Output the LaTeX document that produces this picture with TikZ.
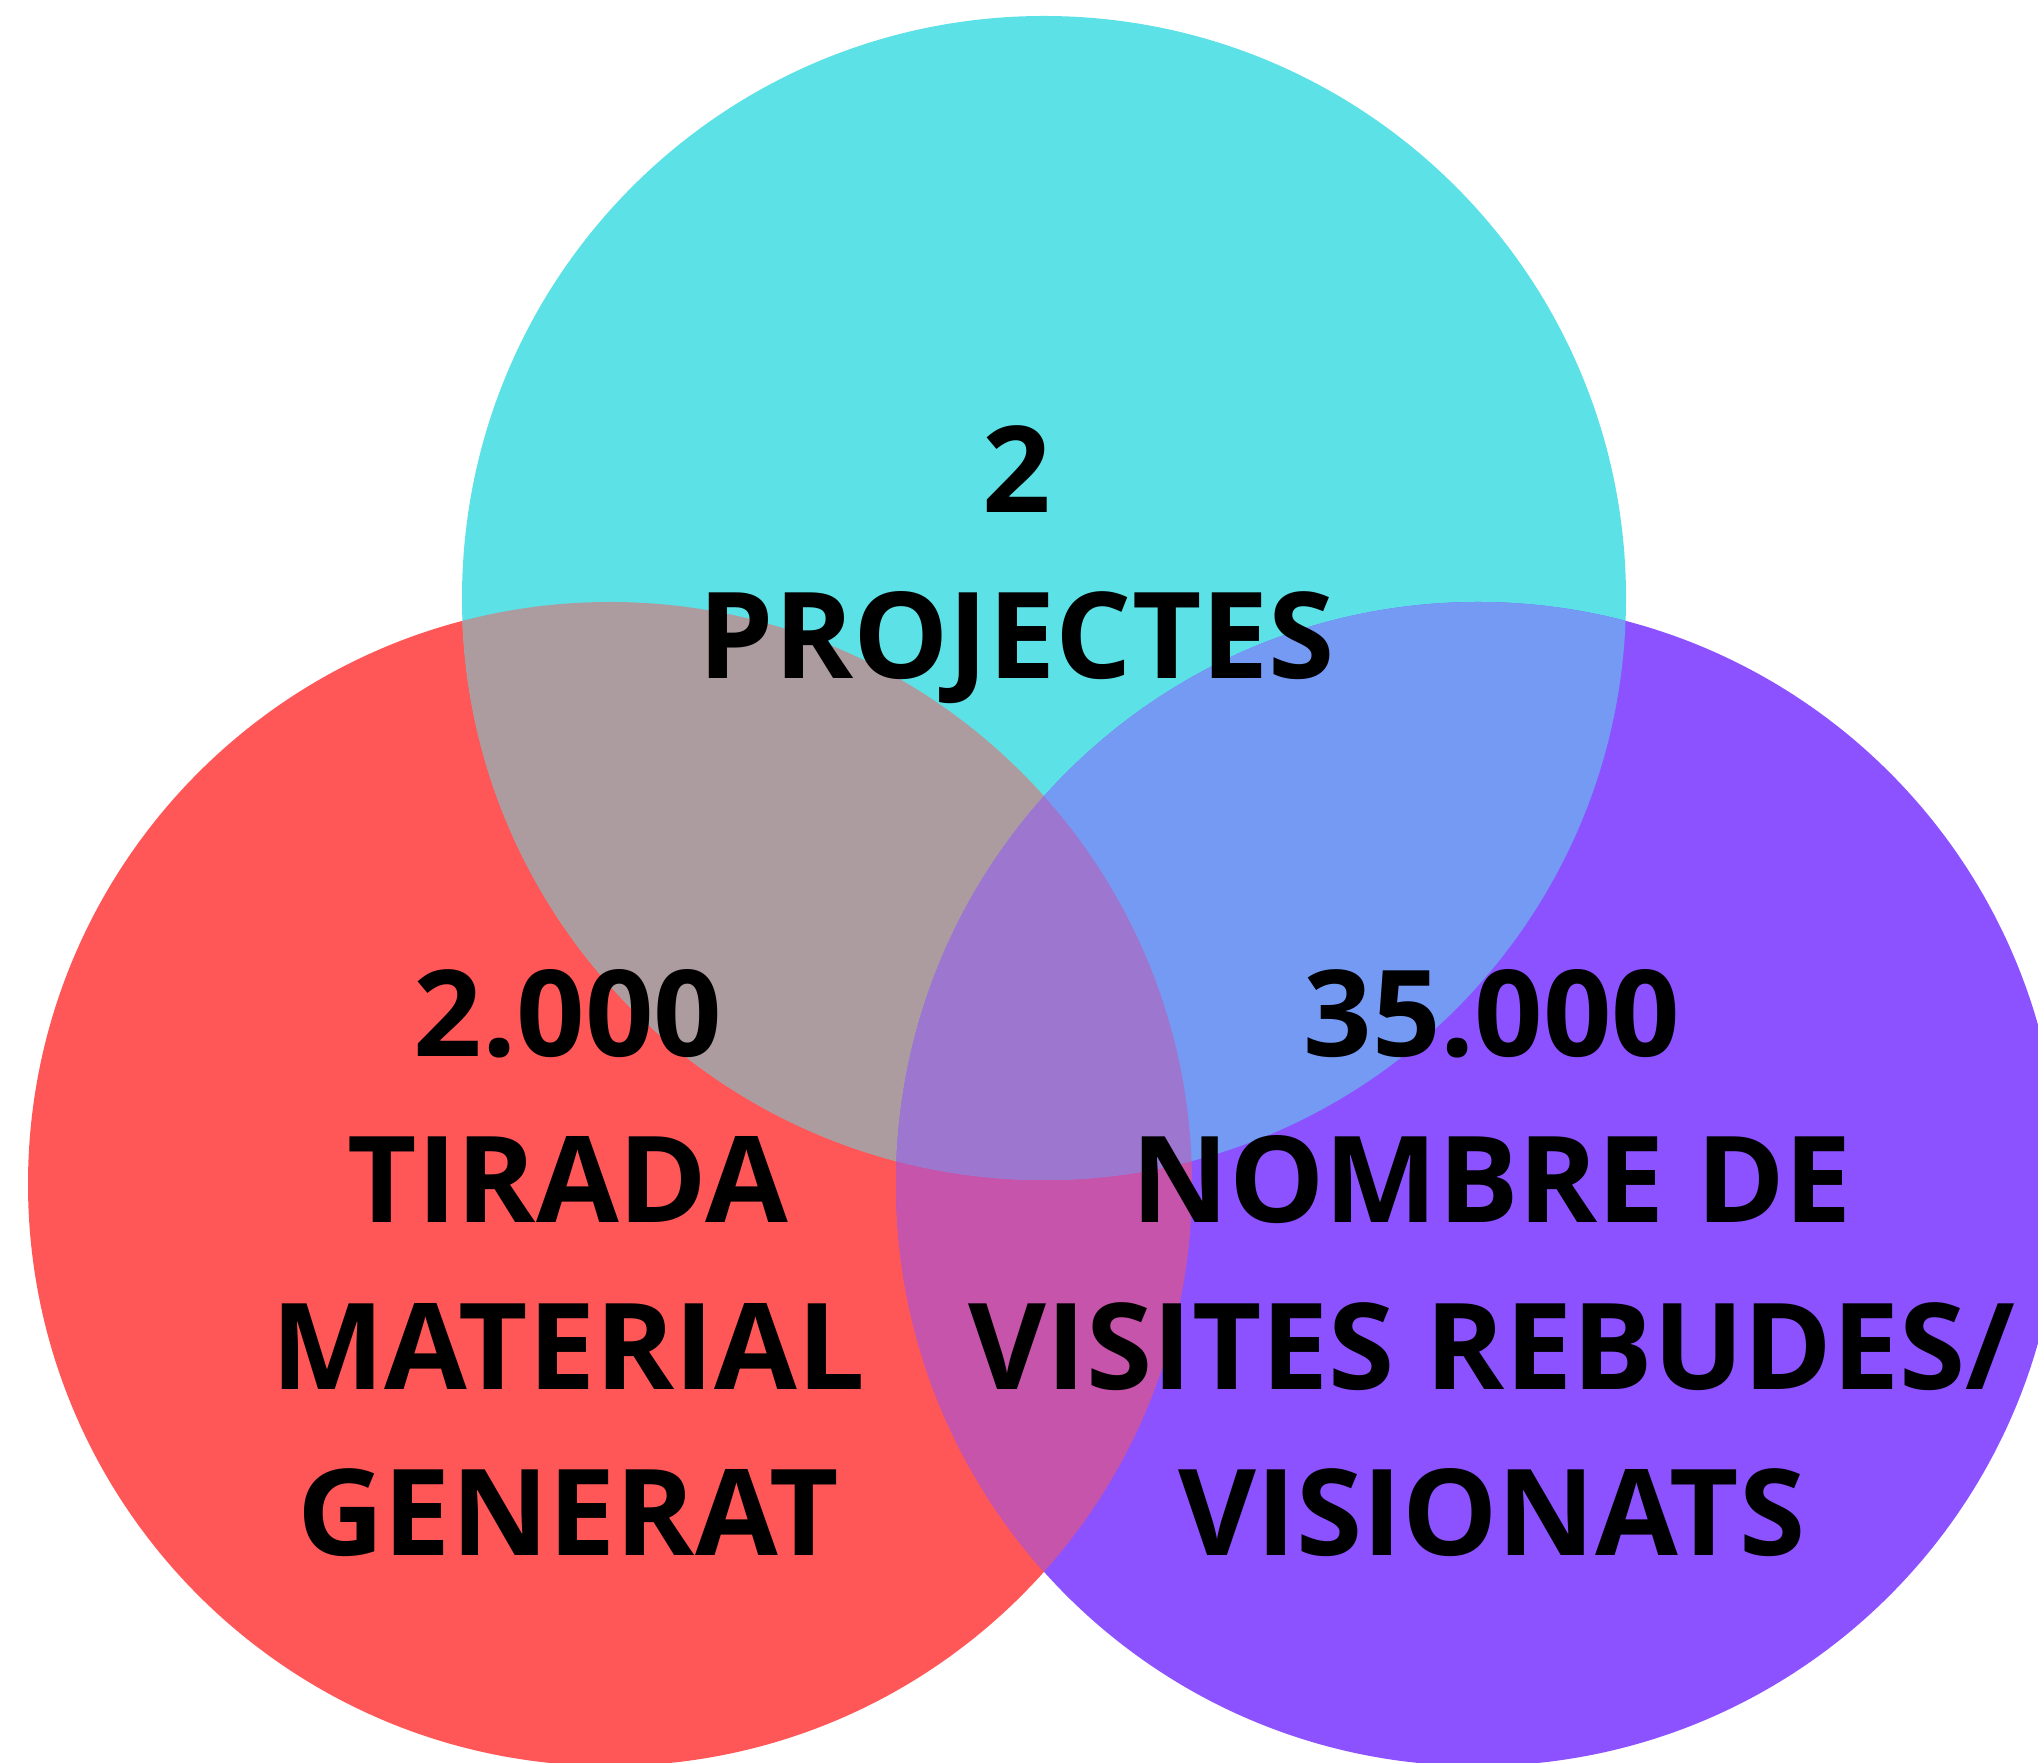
\documentclass[tikz,border=0pt]{standalone}
\usepackage{fontspec}
\setmainfont{Open Sans}
\definecolor{redC}{HTML}{FF5757}
\definecolor{cyanC}{HTML}{5CE1E6}
\definecolor{purpleC}{HTML}{8C52FF}
\colorlet{redcyan}{cyanC!50!redC}
\colorlet{redpurple}{purpleC!50!redC}
\colorlet{cyanpurple}{purpleC!50!cyanC}
\colorlet{allthree}{purpleC!50!redcyan}

\begin{document}
\begin{tikzpicture}[x=0.5pt,y=0.5pt,
  figure/.style={font=\fontsize{60}{83.25}\selectfont\bfseries, align=center,
    anchor=north, inner sep=0pt, text=black}]
\useasboundingbox (0,0) rectangle (2038,1762);
\def\rad{582}
% circles
\fill[redC] (610,578) circle[radius=\rad];
\fill[cyanC] (1044,1164) circle[radius=\rad];
\begin{scope}
  \clip (610,578) circle[radius=\rad];
  \fill[redcyan] (1044,1164) circle[radius=\rad];
\end{scope}
\fill[purpleC] (1478,578) circle[radius=\rad];
\begin{scope}
  \clip (1478,578) circle[radius=\rad];
  \fill[redpurple] (610,578) circle[radius=\rad];
  \fill[cyanpurple] (1044,1164) circle[radius=\rad];
  \clip (610,578) circle[radius=\rad];
  \fill[allthree] (1044,1164) circle[radius=\rad];
\end{scope}
% labels
\node[figure] (proj) at (1017,1337) {2\\PROJECTES};
\node[figure] (tirada) at (568,793) {2.000\\TIRADA\\MATERIAL\\GENERAT};
\node[figure] (visites) at (1492,793) {35.000\\NOMBRE DE\\VISITES REBUDES/\\VISIONATS};
\end{tikzpicture}
\end{document}
